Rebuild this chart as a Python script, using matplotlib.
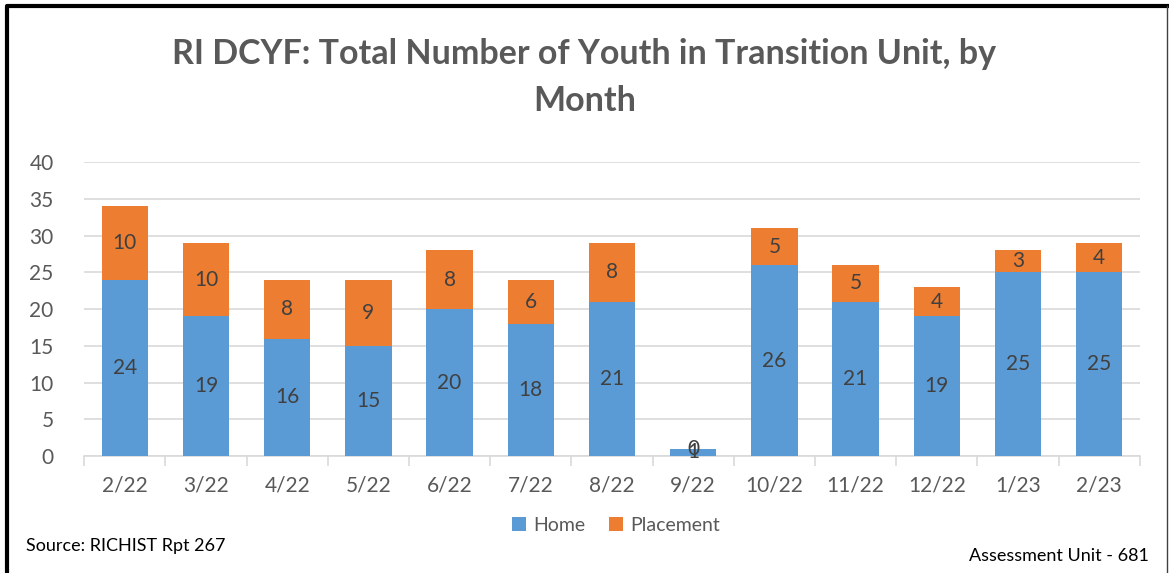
import matplotlib.pyplot as plt

months = ['2/22', '3/22', '4/22', '5/22', '6/22', '7/22', '8/22',
          '9/22', '10/22', '11/22', '12/22', '1/23', '2/23']
home = [24, 19, 16, 15, 20, 18, 21, 1, 26, 21, 19, 25, 25]
placement = [10, 10, 8, 9, 8, 6, 8, 0, 5, 5, 4, 3, 4]

plt.rcParams['font.family'] = ['Lato', 'DejaVu Sans']

fig = plt.figure(figsize=(11.69, 5.73), dpi=100)
ax = fig.add_axes([0.072, 0.204, 0.903, 0.513])

x = list(range(len(months)))
w = 0.57
b1 = ax.bar(x, home, w, color='#5B9BD5', label='Home', zorder=3)
b2 = ax.bar(x, placement, w, bottom=home, color='#ED7D31', label='Placement', zorder=3)

for i in x:
    ax.text(i, home[i] / 2, str(home[i]), ha='center', va='center',
            fontsize=15, color='#404040', zorder=4)
    ax.text(i, home[i] + placement[i] / 2, str(placement[i]), ha='center',
            va='center', fontsize=15, color='#404040', zorder=4)

ax.set_ylim(0, 40)
ax.set_xlim(-0.5, len(months) - 0.5)
ax.set_yticks(range(0, 41, 5))
ax.grid(axis='y', color='#D9D9D9', linewidth=1.2, zorder=0)
for s in ['top', 'right', 'left']:
    ax.spines[s].set_visible(False)
ax.spines['bottom'].set_color('#D9D9D9')
ax.spines['bottom'].set_linewidth(1.2)
ax.set_xticks(x)
ax.set_xticklabels(months)
ax.set_xticks([i - 0.5 for i in range(len(months) + 1)], minor=True)
ax.tick_params(axis='x', which='major', length=0, pad=14, labelsize=15, labelcolor='#595959')
ax.tick_params(axis='x', which='minor', length=7, color='#D9D9D9', width=1.2)
ax.tick_params(axis='y', length=0, pad=22, labelsize=15, labelcolor='#595959')

fig.text(0.5, 0.865, 'RI DCYF: Total Number of Youth in Transition Unit, by\nMonth',
         ha='center', va='center', fontsize=24.5, fontweight='bold', color='#595959',
         linespacing=1.55)

fig.legend(handles=[b1, b2], loc='center', bbox_to_anchor=(0.527, 0.083), ncol=2,
           frameon=False, fontsize=14, labelcolor='#595959', handlelength=0.7,
           handleheight=0.7, handletextpad=0.4, columnspacing=1.2)

fig.text(0.022, 0.047, 'Source: RICHIST Rpt 267', fontsize=13, color='black', va='center')
fig.text(0.983, 0.03, 'Assessment Unit - 681', fontsize=13, color='black',
         va='center', ha='right')

# outer frame: heavy black on left/top, thin grey on the right
fig.add_artist(plt.Line2D([0.006, 0.006, 0.998], [-0.01, 0.99, 0.99],
                          transform=fig.transFigure, color='black', linewidth=3))
fig.add_artist(plt.Line2D([0.998, 0.998], [0.99, -0.01],
                          transform=fig.transFigure, color='#404040', linewidth=1))

fig.savefig('out.png', dpi=100)
